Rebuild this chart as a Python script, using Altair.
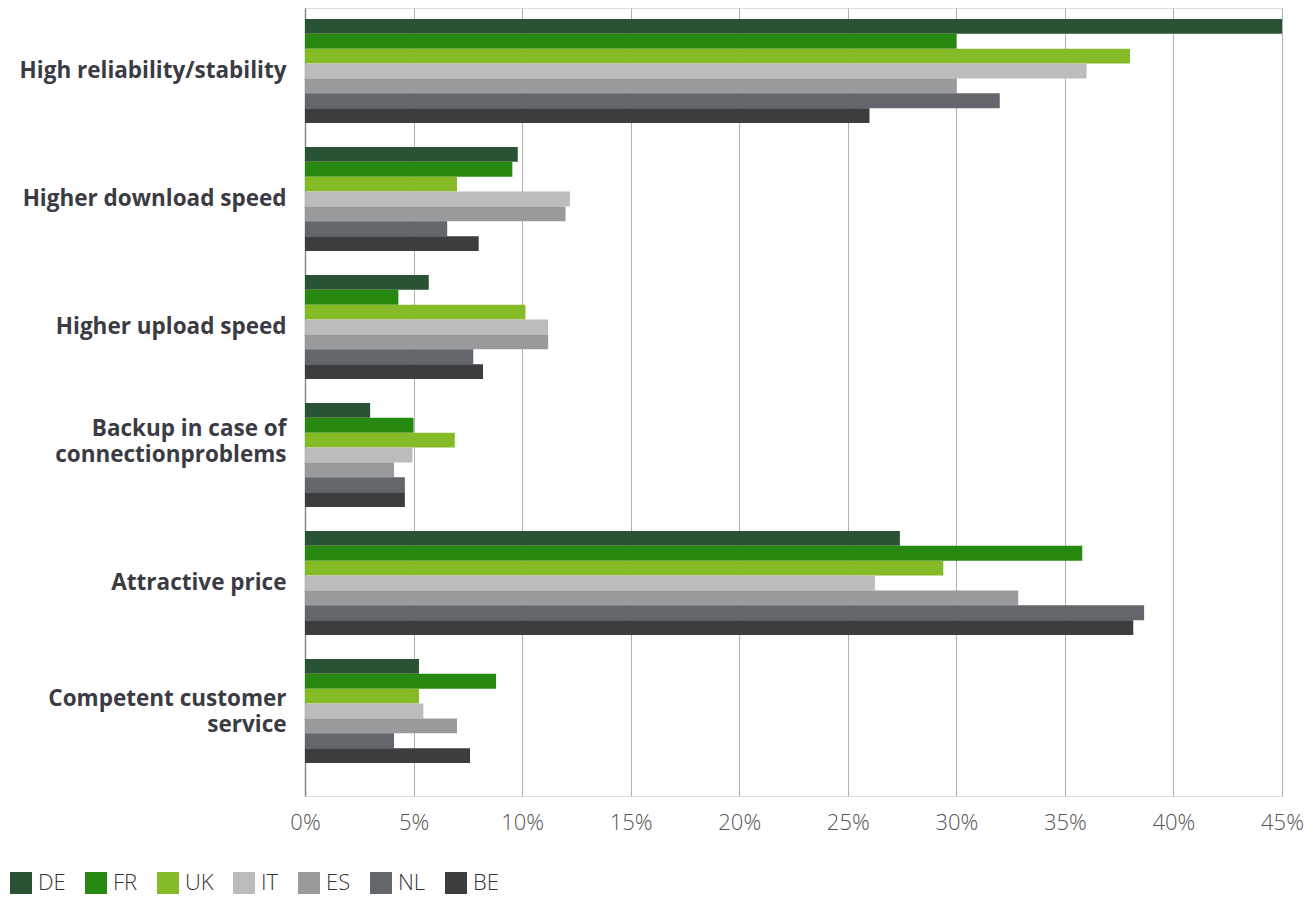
import altair as alt
import pandas as pd

categories = [
    "High reliability/stability",
    "Higher download speed",
    "Higher upload speed",
    "Backup in case of|connectionproblems",
    "Attractive price",
    "Competent customer|service",
]
series = ["DE", "FR", "UK", "IT", "ES", "NL", "BE"]
colors = ["#2a5234", "#26880f", "#86bb28", "#bbbcbb", "#999a9b", "#63666a", "#3c3d3f"]

de = [45.0, 9.8, 5.7, 3.0, 27.4, 5.25]
fr = [30.0, 9.55, 4.3, 5.0, 35.8, 8.8]
uk = [38.0, 7.0, 10.15, 6.9, 29.4, 5.25]
it = [36.0, 12.2, 11.2, 4.95, 26.25, 5.45]
es = [30.0, 12.0, 11.2, 4.1, 32.85, 7.0]
nl = [32.0, 6.55, 7.75, 4.6, 38.65, 4.1]
be = [26.0, 8.0, 8.2, 4.6, 38.15, 7.6]

x_ticks = [0, 0.05, 0.10, 0.15, 0.20, 0.25, 0.30, 0.35, 0.40, 0.45]

values = {"DE": de, "FR": fr, "UK": uk, "IT": it, "ES": es, "NL": nl, "BE": be}
rows = []
for s in series:
    for c, v in zip(categories, values[s]):
        rows.append({"category": c, "country": s, "share": v / 100.0})
df = pd.DataFrame(rows)

FONT = "Open Sans"

chart = (
    alt.Chart(df)
    .mark_bar()
    .encode(
        x=alt.X(
            "share:Q",
            scale=alt.Scale(domain=[0, 0.45], nice=False, zero=True),
            axis=alt.Axis(
                values=x_ticks,
                format=".0%",
                title=None,
                orient="bottom",
                domain=False,
                ticks=False,
                tickSize=0,
                grid=True,
                gridColor="#b0b0b0",
                gridWidth=1,
                labelFlush=False,
                labelFont=FONT,
                labelFontSize=22,
                labelFontWeight=300,
                labelColor="#555555",
                labelPadding=16,
            ),
        ),
        y=alt.Y(
            "category:N",
            sort=categories,
            scale=alt.Scale(paddingInner=0.1875, paddingOuter=0.171875, align=0.25),
            axis=alt.Axis(
                title=None,
                domain=True,
                domainColor="#8a8a8a",
                domainWidth=1.5,
                ticks=False,
                tickSize=0,
                grid=False,
                labelFont=FONT,
                labelFontSize=22.5,
                labelFontWeight="bold",
                labelColor="#3b3b43",
                labelPadding=19,
                labelLineHeight=26,
                labelLimit=400,
                labelExpr="split(datum.label, '|')",
                labelOffset={
                    "condition": [
                        {"test": "indexof(datum.value, 'Backup') == 0", "value": -26},
                        {"test": "indexof(datum.value, 'Competent') == 0", "value": -12},
                    ],
                    "value": 0,
                },
            ),
        ),
        yOffset=alt.YOffset(
            "country:N",
            sort=series,
            scale=alt.Scale(paddingInner=0, paddingOuter=0),
        ),
        color=alt.Color(
            "country:N",
            sort=series,
            scale=alt.Scale(domain=series, range=colors),
            legend=alt.Legend(
                title=None,
                orient="none",
                direction="horizontal",
                legendX=-295,
                legendY=864,
                symbolType="square",
                symbolSize=484,
                symbolStrokeWidth=0,
                symbolOpacity=1,
                labelFont=FONT,
                labelFontSize=22,
                labelFontWeight=300,
                labelColor="#333333",
                labelOffset=6,
                columnPadding=19,
                padding=0,
            ),
        ),
    )
    .properties(
        width=977,
        height=788,
        autosize=alt.AutoSizeParams(type="none"),
        padding={"left": 297, "top": 0, "right": 22, "bottom": 102},
    )
    .configure_view(stroke=None)
    .configure(background="white")
)

chart.save("out.html", embed_options={"renderer": "svg", "actions": False})
